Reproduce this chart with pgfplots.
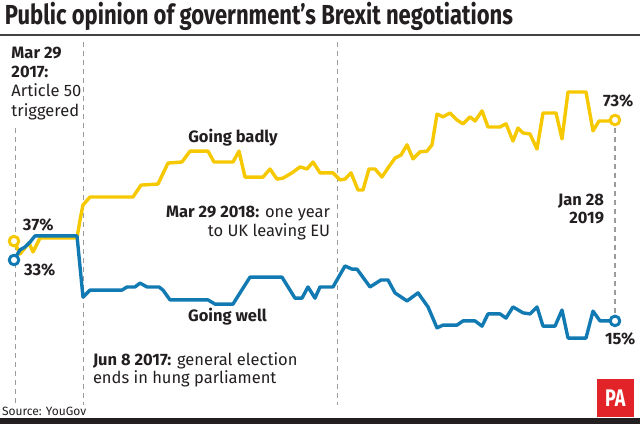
\documentclass[border=0pt]{standalone}
\usepackage{pgfplots}
\pgfplotsset{compat=1.18}
\usepackage{graphicx}
\usepackage{fontspec}
\setmainfont{Fira Sans}
\definecolor{ybad}{RGB}{246,200,0}
\definecolor{bwell}{RGB}{18,122,179}
\definecolor{dashgray}{RGB}{155,155,155}
\definecolor{txt}{RGB}{35,31,32}
\definecolor{pared}{RGB}{226,35,40}
\newsavebox\tbox
\newcommand\fitw[2]{\sbox\tbox{#2}\pgfmathsetmacro\sx{#1/\wd\tbox}\scalebox{\sx}[1]{\usebox\tbox}}
\begin{document}
\begin{tikzpicture}[x=1pt,y=1pt]
\useasboundingbox (0,0) rectangle (640,424);
\fill[white] (0,0) rectangle (640,424);
% rules
\fill[txt!85] (0,387.9) rectangle (640,390.4);
\fill[txt] (0,0) rectangle (640,5.7);
% dashed reference lines
\begin{scope}[dashgray, line width=1.4pt, dash pattern=on 5pt off 4pt]
\draw (15.5,296) -- (15.5,19);
\draw (83.5,382) -- (83.5,19);
\draw (337.5,382) -- (337.5,19);
\draw (615,296) -- (615,111);
\end{scope}
\begin{axis}[at={(0,0)}, anchor=south west, scale only axis,
  width=640pt, height=424pt, xmin=0, xmax=640, ymin=-13.857, ymax=107.286,
  axis lines=none, clip=false, line join=round, line cap=round]
\addplot[ybad, line width=3.4pt, no marks] coordinates {
(14,38.4) (20,34.7) (29,37.9) (33,35.3) (40,39.3) (77,39.3) (80,44.4) (83,48.7)
(90,51.0) (133,51.0) (141,54.4) (158,54.7) (168,60.7) (182,61.0) (190,64.1)
(208,64.1) (214,61.0) (233,61.0) (239,64.1) (245,56.7) (263,56.7) (270,59.0)
(277,56.1) (283,56.4) (292,57.9) (300,59.6) (307,59.0) (313,61.0) (320,57.9)
(333,57.9) (340,55.9) (345,56.1) (351,57.9) (358,53.0) (363,53.0) (369,59.0)
(375,59.0) (382,56.7) (388,59.3) (395,62.1) (401,63.0) (407,65.9) (413,61.9)
(420,63.9) (427,64.1) (432,65.9) (437,74.7) (443,73.9) (450,75.0) (457,73.0)
(463,71.9) (470,73.9) (475,72.7) (482,75.6) (488,71.0) (500,71.0) (506,71.9)
(513,67.0) (518,70.7) (523,69.3) (530,69.0) (537,64.7) (543,75.0) (556,75.0)
(562,67.6) (568,81.0) (586,81.0) (593,69.9) (599,72.7) (608,72.7) (615,73.0)};
\addplot[bwell, line width=3.4pt, no marks] coordinates {
(14,33.0) (20,35.9) (25,36.7) (30,38.1) (35,39.9) (77,39.9) (83,22.4) (90,24.4)
(122,24.4) (127,25.3) (135,25.3) (140,26.4) (147,25.3) (159,25.3) (163,24.4)
(170,21.6) (208,21.6) (215,20.4) (233,20.4) (240,23.6) (250,28.1) (282,28.1)
(295,22.1) (302,22.1) (308,25.3) (315,22.1) (320,25.3) (333,25.3) (345,31.3)
(352,30.4) (357,30.4) (370,25.3) (381,27.3) (388,27.3) (395,23.6) (407,21.3)
(418,23.6) (428,19.6) (437,13.6) (443,14.4) (457,14.4) (463,15.6) (475,15.6)
(482,14.1) (488,17.6) (500,17.6) (506,16.4) (513,19.6) (523,17.9) (530,17.6)
(537,19.6) (543,14.1) (555,14.1) (562,18.7) (568,10.7) (586,10.7) (593,18.4)
(600,15.6) (608,15.6) (615,15.6)};
\addplot[only marks, mark=*, mark size=4.8pt, mark options={draw=ybad, fill=white, line width=3pt}] coordinates {(14,38.4) (615,73.0)};
\addplot[only marks, mark=*, mark size=4.8pt, mark options={draw=bwell, fill=white, line width=3pt}] coordinates {(14,33.0) (615,15.6)};
\end{axis}
% texts
\begin{scope}[every node/.style={inner sep=0pt, outer sep=0pt, text=txt, font=\fontsize{16.5}{19}\selectfont}]
\node[anchor=base west] at (5,399) {\fitw{508pt}{\fontsize{27.5}{30}\selectfont\bfseries Public opinion of government’s Brexit negotiations}};
\node[anchor=base west] at (11.5,365) {\bfseries Mar 29};
\node[anchor=base west] at (11.5,346) {\bfseries 2017:};
\node[anchor=base west] at (11.5,327) {Article 50};
\node[anchor=base west] at (11.5,308) {triggered};
\node[anchor=base] at (233,282) {\bfseries Going badly};
\node[anchor=base east] at (330,207) {\textbf{Mar 29 2018:} one year};
\node[anchor=base east] at (330,187.5) {to UK leaving EU};
\node[anchor=base] at (227.5,102.5) {\bfseries Going well};
\node[anchor=base west] at (93,59) {\textbf{Jun 8 2017:} general election};
\node[anchor=base west] at (93,41) {ends in hung parliament};
\node[anchor=base west] at (23,194) {\bfseries 37\%};
\node[anchor=base west] at (24,149) {\bfseries 33\%};
\node[anchor=base west] at (603,317) {\bfseries 73\%};
\node[anchor=base west] at (605,80) {\bfseries 15\%};
\node[anchor=base east] at (604,219) {\bfseries Jan 28};
\node[anchor=base east] at (604,200.7) {\bfseries 2019};
\node[anchor=base west, font=\fontsize{12}{14}\selectfont] at (2,9) {Source: YouGov};
\end{scope}
\fill[pared] (597,7.3) rectangle (633.5,44.7);
\node[text=white, inner sep=0pt, font=\fontsize{24}{24}\selectfont\bfseries] at (615.25,26) {\scalebox{0.75}[1]{PA}};
\end{tikzpicture}
\end{document}
